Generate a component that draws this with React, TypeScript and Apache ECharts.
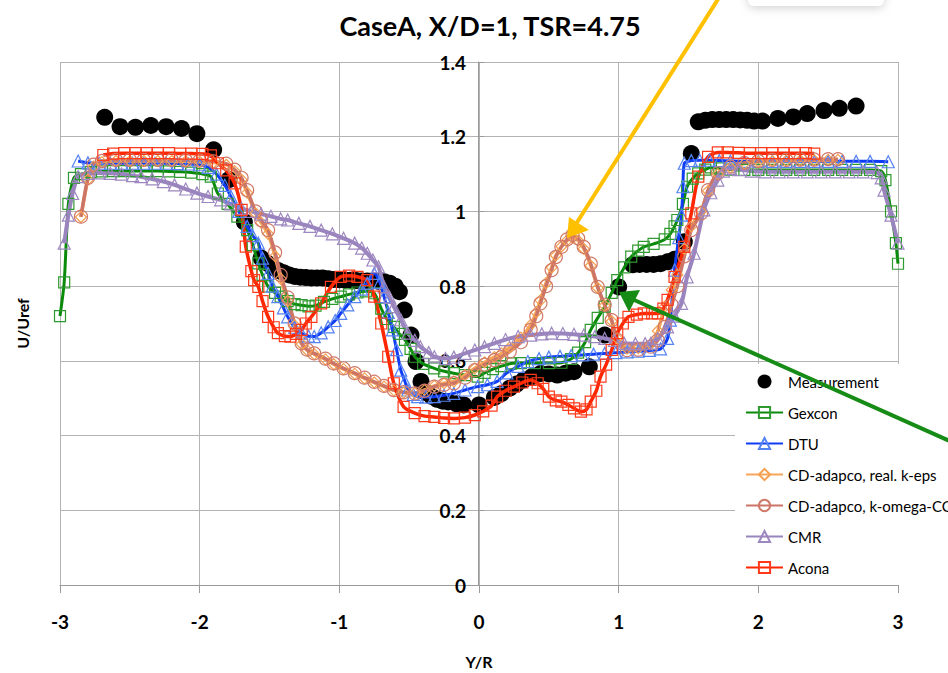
import React, { useEffect, useRef } from "react";
import * as echarts from "echarts";

const FONT = "Lato, 'Open Sans', sans-serif";

const TITLE = "CaseA, X/D=1, TSR=4.75";
const X_NAME = "Y/R";
const Y_NAME = "U/Uref";

const measurement: [number, number][] = [
  [-2.68, 1.252], [-2.57, 1.227], [-2.46, 1.225], [-2.35, 1.23], [-2.24, 1.227], [-2.13, 1.222],
  [-2.02, 1.208], [-1.9, 1.165], [-1.79, 1.085], [-1.68, 0.972], [-1.56, 0.875], [-1.52, 0.862],
  [-1.48, 0.85], [-1.44, 0.842], [-1.4, 0.836], [-1.36, 0.83], [-1.32, 0.826], [-1.28, 0.824],
  [-1.24, 0.823], [-1.2, 0.822], [-1.16, 0.822], [-1.12, 0.822], [-1.08, 0.82], [-1.04, 0.818],
  [-1.0, 0.817], [-0.96, 0.816], [-0.92, 0.816], [-0.88, 0.815], [-0.84, 0.814], [-0.8, 0.814],
  [-0.76, 0.814], [-0.72, 0.813], [-0.68, 0.812], [-0.64, 0.808], [-0.6, 0.8], [-0.57, 0.785],
  [-0.535, 0.736], [-0.487, 0.669], [-0.451, 0.598], [-0.415, 0.545], [-0.38, 0.515], [-0.34, 0.505],
  [-0.3, 0.497], [-0.26, 0.492], [-0.22, 0.49], [-0.16, 0.485], [-0.11, 0.482], [0.0, 0.482],
  [0.11, 0.502], [0.16, 0.512], [0.22, 0.527], [0.27, 0.538], [0.32, 0.549], [0.38, 0.558],
  [0.44, 0.566], [0.5, 0.565], [0.56, 0.562], [0.62, 0.567], [0.68, 0.571], [0.79, 0.584],
  [0.9, 0.669], [1.0, 0.798], [1.1, 0.857], [1.15, 0.858], [1.2, 0.858], [1.25, 0.858],
  [1.3, 0.86], [1.35, 0.865], [1.4, 0.872], [1.47, 0.919], [1.52, 1.155], [1.57, 1.24],
  [1.62, 1.244], [1.67, 1.246], [1.72, 1.246], [1.77, 1.246], [1.82, 1.246], [1.87, 1.245],
  [1.92, 1.244], [1.97, 1.242], [2.03, 1.242], [2.14, 1.249], [2.25, 1.253], [2.35, 1.262],
  [2.47, 1.27], [2.58, 1.276], [2.7, 1.282],
];

const gexcon: [number, number][] = [
  [-3.0, 0.72], [-2.97, 0.81], [-2.94, 1.02], [-2.9, 1.09], [-2.85, 1.1], [-2.78, 1.105],
  [-2.7, 1.107], [-2.62, 1.108], [-2.54, 1.108], [-2.46, 1.108], [-2.38, 1.108], [-2.3, 1.108],
  [-2.22, 1.107], [-2.14, 1.106], [-2.06, 1.104], [-1.98, 1.1], [-1.92, 1.093], [-1.87, 1.048],
  [-1.8, 1.02], [-1.73, 0.986], [-1.66, 0.95], [-1.62, 0.91], [-1.58, 0.861], [-1.55, 0.83],
  [-1.51, 0.799], [-1.46, 0.782], [-1.42, 0.772], [-1.37, 0.76], [-1.32, 0.752], [-1.27, 0.749],
  [-1.22, 0.746], [-1.17, 0.748], [-1.11, 0.758], [-1.05, 0.766], [-0.99, 0.772], [-0.93, 0.778],
  [-0.87, 0.783], [-0.81, 0.786], [-0.75, 0.781], [-0.7, 0.74], [-0.66, 0.712], [-0.61, 0.691],
  [-0.57, 0.672], [-0.53, 0.656], [-0.49, 0.632], [-0.46, 0.611], [-0.4, 0.592], [-0.32, 0.58],
  [-0.25, 0.572], [-0.18, 0.567], [-0.1, 0.562], [-0.01, 0.558], [0.04, 0.568], [0.1, 0.578],
  [0.16, 0.586], [0.23, 0.593], [0.3, 0.594], [0.4, 0.594], [0.5, 0.594], [0.59, 0.595],
  [0.66, 0.605], [0.71, 0.622], [0.76, 0.65], [0.8, 0.683], [0.85, 0.715], [0.9, 0.745],
  [0.95, 0.782], [0.99, 0.816], [1.04, 0.85], [1.09, 0.879], [1.14, 0.895], [1.18, 0.905],
  [1.25, 0.913], [1.33, 0.925], [1.37, 0.94], [1.4, 0.96], [1.42, 0.977], [1.46, 1.02],
  [1.49, 1.066], [1.53, 1.088], [1.57, 1.102], [1.62, 1.112], [1.66, 1.118], [1.72, 1.115],
  [1.8, 1.112], [1.9, 1.111], [2.0, 1.111], [2.1, 1.111], [2.2, 1.111], [2.3, 1.111],
  [2.4, 1.111], [2.5, 1.111], [2.6, 1.111], [2.7, 1.111], [2.8, 1.111], [2.88, 1.108],
  [2.91, 1.084], [2.95, 1.0], [2.985, 0.915], [3.0, 0.86],
];

const dtu: [number, number][] = [
  [-2.87, 1.135], [-2.8, 1.13], [-2.72, 1.129], [-2.64, 1.129], [-2.56, 1.129], [-2.48, 1.129],
  [-2.4, 1.129], [-2.32, 1.129], [-2.24, 1.129], [-2.16, 1.128], [-2.08, 1.127], [-2.0, 1.125],
  [-1.94, 1.118], [-1.88, 1.1], [-1.82, 1.07], [-1.775, 1.039], [-1.72, 1.0], [-1.66, 0.96],
  [-1.62, 0.935], [-1.58, 0.915], [-1.55, 0.875], [-1.51, 0.834], [-1.48, 0.8], [-1.44, 0.772],
  [-1.4, 0.742], [-1.37, 0.718], [-1.32, 0.69], [-1.27, 0.674], [-1.22, 0.666], [-1.18, 0.665],
  [-1.13, 0.675], [-1.08, 0.691], [-1.03, 0.708], [-0.99, 0.727], [-0.94, 0.75], [-0.89, 0.772],
  [-0.84, 0.792], [-0.8, 0.808], [-0.75, 0.834], [-0.71, 0.81], [-0.68, 0.772], [-0.65, 0.73],
  [-0.62, 0.683], [-0.59, 0.63], [-0.56, 0.575], [-0.53, 0.545], [-0.51, 0.522], [-0.47, 0.51],
  [-0.44, 0.504], [-0.38, 0.503], [-0.32, 0.504], [-0.25, 0.508], [-0.18, 0.513], [-0.1, 0.522],
  [-0.01, 0.531], [0.06, 0.536], [0.13, 0.545], [0.2, 0.568], [0.28, 0.585], [0.35, 0.598],
  [0.43, 0.606], [0.5, 0.61], [0.58, 0.612], [0.66, 0.614], [0.74, 0.616], [0.82, 0.618],
  [0.9, 0.62], [0.98, 0.622], [1.06, 0.624], [1.14, 0.626], [1.22, 0.628], [1.3, 0.632],
  [1.35, 0.66], [1.37, 0.709], [1.4, 0.843], [1.43, 0.93], [1.45, 0.99], [1.46, 1.066],
  [1.47, 1.129], [1.52, 1.136], [1.58, 1.137], [1.65, 1.137], [1.72, 1.136], [1.8, 1.135],
  [1.9, 1.134], [2.0, 1.134], [2.1, 1.134], [2.2, 1.134], [2.3, 1.134], [2.4, 1.134],
  [2.5, 1.134], [2.6, 1.134], [2.7, 1.134], [2.8, 1.134], [2.93, 1.133],
];

const cdKeps: [number, number][] = [
  [-2.85, 0.985], [-2.8, 1.085], [-2.76, 1.12], [-2.7, 1.132], [-2.6, 1.135], [-2.5, 1.135],
  [-2.4, 1.135], [-2.3, 1.135], [-2.2, 1.135], [-2.1, 1.134], [-2.0, 1.133], [-1.9, 1.131],
  [-1.81, 1.125], [-1.75, 1.108], [-1.7, 1.085], [-1.66, 1.05], [-1.6, 0.995], [-1.56, 0.97],
  [-1.51, 0.94], [-1.46, 0.88], [-1.42, 0.82], [-1.37, 0.76], [-1.32, 0.695], [-1.27, 0.645],
  [-1.23, 0.628], [-1.18, 0.618], [-1.1, 0.604], [-1.04, 0.591], [-0.97, 0.578], [-0.89, 0.565],
  [-0.82, 0.553], [-0.75, 0.542], [-0.68, 0.531], [-0.61, 0.521], [-0.54, 0.515], [-0.46, 0.514],
  [-0.39, 0.522], [-0.32, 0.533], [-0.25, 0.54], [-0.18, 0.545], [-0.1, 0.562], [-0.03, 0.58],
  [0.04, 0.596], [0.11, 0.61], [0.16, 0.62], [0.22, 0.636], [0.3, 0.662], [0.37, 0.696],
  [0.41, 0.73], [0.44, 0.762], [0.48, 0.808], [0.52, 0.85], [0.55, 0.882], [0.59, 0.906],
  [0.63, 0.922], [0.67, 0.93], [0.71, 0.922], [0.75, 0.9], [0.8, 0.855], [0.85, 0.795],
  [0.9, 0.748], [0.95, 0.706], [0.99, 0.66], [1.06, 0.633], [1.14, 0.634], [1.23, 0.645],
  [1.28, 0.68], [1.33, 0.745], [1.38, 0.79], [1.42, 0.83], [1.47, 0.9], [1.52, 0.96],
  [1.59, 1.0], [1.64, 1.055], [1.71, 1.1], [1.8, 1.118], [1.9, 1.128], [2.0, 1.133],
  [2.1, 1.135], [2.2, 1.136], [2.3, 1.137], [2.4, 1.137], [2.5, 1.138], [2.57, 1.138],
];

const cdKomega: [number, number][] = [
  [-2.85, 0.986], [-2.8, 1.09], [-2.76, 1.125], [-2.7, 1.135], [-2.6, 1.138], [-2.5, 1.138],
  [-2.4, 1.138], [-2.3, 1.138], [-2.2, 1.138], [-2.1, 1.137], [-2.0, 1.136], [-1.9, 1.134],
  [-1.81, 1.128], [-1.75, 1.112], [-1.7, 1.09], [-1.66, 1.057], [-1.6, 1.0], [-1.56, 0.977],
  [-1.51, 0.95], [-1.46, 0.89], [-1.42, 0.83], [-1.37, 0.77], [-1.32, 0.7], [-1.27, 0.647],
  [-1.23, 0.63], [-1.18, 0.62], [-1.1, 0.606], [-1.04, 0.593], [-0.97, 0.58], [-0.89, 0.567],
  [-0.82, 0.555], [-0.75, 0.544], [-0.68, 0.533], [-0.61, 0.522], [-0.54, 0.516], [-0.46, 0.513],
  [-0.39, 0.52], [-0.32, 0.531], [-0.25, 0.536], [-0.18, 0.54], [-0.1, 0.555], [-0.03, 0.575],
  [0.04, 0.59], [0.11, 0.602], [0.16, 0.61], [0.22, 0.625], [0.3, 0.65], [0.37, 0.683],
  [0.41, 0.72], [0.44, 0.754], [0.48, 0.8], [0.52, 0.843], [0.55, 0.878], [0.59, 0.905],
  [0.63, 0.925], [0.67, 0.937], [0.71, 0.928], [0.75, 0.905], [0.8, 0.86], [0.85, 0.798],
  [0.9, 0.75], [0.95, 0.709], [0.99, 0.656], [1.06, 0.629], [1.14, 0.63], [1.23, 0.638],
  [1.28, 0.655], [1.33, 0.691], [1.38, 0.75], [1.42, 0.8], [1.47, 0.88], [1.52, 0.95],
  [1.59, 0.995], [1.64, 1.057], [1.71, 1.102], [1.8, 1.12], [1.9, 1.13], [2.0, 1.135],
  [2.1, 1.138], [2.2, 1.138], [2.3, 1.139], [2.4, 1.139], [2.5, 1.14], [2.57, 1.14],
];

const cmr: [number, number][] = [
  [-2.97, 0.915], [-2.94, 0.99], [-2.91, 1.048], [-2.87, 1.093], [-2.8, 1.102], [-2.72, 1.103],
  [-2.64, 1.102], [-2.56, 1.1], [-2.48, 1.096], [-2.42, 1.093], [-2.34, 1.087], [-2.26, 1.08],
  [-2.18, 1.071], [-2.1, 1.06], [-2.02, 1.049], [-1.94, 1.04], [-1.85, 1.031], [-1.78, 1.02],
  [-1.7, 1.008], [-1.63, 1.0], [-1.56, 0.993], [-1.49, 0.987], [-1.42, 0.98], [-1.37, 0.977],
  [-1.29, 0.968], [-1.21, 0.96], [-1.13, 0.95], [-1.05, 0.94], [-0.97, 0.928], [-0.89, 0.915],
  [-0.84, 0.902], [-0.8, 0.888], [-0.76, 0.87], [-0.72, 0.852], [-0.68, 0.798], [-0.64, 0.77],
  [-0.61, 0.745], [-0.56, 0.71], [-0.51, 0.674], [-0.46, 0.655], [-0.42, 0.638], [-0.36, 0.622],
  [-0.32, 0.611], [-0.24, 0.606], [-0.18, 0.61], [-0.1, 0.62], [-0.03, 0.629], [0.04, 0.638],
  [0.11, 0.647], [0.19, 0.657], [0.28, 0.665], [0.37, 0.669], [0.45, 0.672], [0.52, 0.674],
  [0.6, 0.673], [0.68, 0.671], [0.75, 0.669], [0.83, 0.665], [0.9, 0.66], [0.97, 0.655],
  [1.04, 0.647], [1.12, 0.646], [1.19, 0.646], [1.23, 0.647], [1.28, 0.66], [1.35, 0.691],
  [1.4, 0.72], [1.45, 0.754], [1.49, 0.825], [1.54, 0.888], [1.61, 1.004], [1.66, 1.05],
  [1.71, 1.084], [1.75, 1.108], [1.8, 1.115], [1.86, 1.112], [1.95, 1.108], [2.05, 1.106],
  [2.15, 1.106], [2.25, 1.106], [2.35, 1.106], [2.45, 1.106], [2.55, 1.106], [2.65, 1.106],
  [2.75, 1.106], [2.85, 1.104], [2.88, 1.09], [2.9, 1.057], [2.95, 0.99], [3.0, 0.915],
];

const acona: [number, number][] = [
  [-2.69, 1.151], [-2.62, 1.155], [-2.54, 1.156], [-2.46, 1.156], [-2.38, 1.156], [-2.3, 1.156],
  [-2.22, 1.156], [-2.14, 1.155], [-2.06, 1.155], [-1.98, 1.154], [-1.92, 1.15], [-1.87, 1.129],
  [-1.81, 1.11], [-1.75, 1.075], [-1.7, 1.004], [-1.67, 0.906], [-1.63, 0.84], [-1.61, 0.816],
  [-1.58, 0.798], [-1.55, 0.76], [-1.51, 0.718], [-1.47, 0.69], [-1.44, 0.674], [-1.39, 0.666],
  [-1.35, 0.665], [-1.31, 0.672], [-1.27, 0.683], [-1.24, 0.7], [-1.2, 0.718], [-1.13, 0.754],
  [-1.06, 0.798], [-0.99, 0.825], [-0.93, 0.828], [-0.87, 0.825], [-0.8, 0.816], [-0.75, 0.772],
  [-0.7, 0.7], [-0.65, 0.611], [-0.61, 0.54], [-0.54, 0.477], [-0.46, 0.46], [-0.39, 0.452],
  [-0.32, 0.45], [-0.25, 0.447], [-0.18, 0.446], [-0.1, 0.448], [-0.03, 0.455], [0.03, 0.465],
  [0.09, 0.48], [0.13, 0.504], [0.19, 0.52], [0.25, 0.531], [0.31, 0.542], [0.37, 0.549],
  [0.42, 0.54], [0.46, 0.525], [0.5, 0.504], [0.55, 0.494], [0.59, 0.491], [0.64, 0.482],
  [0.68, 0.473], [0.73, 0.464], [0.77, 0.47], [0.8, 0.491], [0.84, 0.52], [0.87, 0.558],
  [0.91, 0.59], [0.95, 0.629], [0.99, 0.674], [1.03, 0.7], [1.07, 0.718], [1.13, 0.724],
  [1.18, 0.727], [1.24, 0.727], [1.28, 0.727], [1.32, 0.74], [1.35, 0.763], [1.4, 0.825],
  [1.47, 0.905], [1.52, 0.995], [1.57, 1.093], [1.64, 1.146], [1.71, 1.158], [1.78, 1.158],
  [1.86, 1.157], [1.94, 1.156], [2.02, 1.156], [2.1, 1.156], [2.18, 1.156], [2.26, 1.156],
  [2.34, 1.156], [2.4, 1.155],
];

const LEGEND_NAMES = [
  "Measurement",
  "Gexcon",
  "DTU",
  "CD-adapco, real. k-eps",
  "CD-adapco, k-omega-CC",
  "CMR",
  "Acona",
];

function lineSeries(
  name: string,
  data: [number, number][],
  lineColor: string,
  markColor: string,
  symbol: string,
  symbolSize: number,
  width: number
) {
  return {
    name,
    type: "line",
    data,
    smooth: 0.25,
    symbol,
    symbolSize,
    showAllSymbol: true,
    lineStyle: { color: lineColor, width },
    itemStyle: { color: "transparent", borderColor: markColor, borderWidth: 1.2 },
    emphasis: { disabled: true },
  };
}

export default function App() {
  const ref = useRef<HTMLDivElement>(null);

  useEffect(() => {
    if (!ref.current) return;
    const chart = echarts.init(ref.current, undefined, { renderer: "svg" });
    const gridColor = "#b3b3b3";
    const axisColor = "#9a9a9a";
    const option: any = {
      animation: false,
      backgroundColor: "#ffffff",
      title: {
        text: TITLE,
        left: 485,
        top: 7,
        textAlign: "center",
        textStyle: { fontFamily: FONT, fontWeight: "bold", fontSize: 27, color: "#000" },
      },
      grid: { left: 60, right: 50, top: 62, bottom: 88, containLabel: false, outerBoundsMode: "none" },
      xAxis: {
        type: "value",
        min: -3,
        max: 3,
        interval: 1,
        name: X_NAME,
        nameLocation: "middle",
        nameGap: 68,
        nameTextStyle: { fontFamily: FONT, fontWeight: "bold", fontSize: 16, color: "#000" },
        axisLine: { show: true, onZero: false, lineStyle: { color: axisColor, width: 1 } },
        axisTick: { show: true, length: 8, lineStyle: { color: axisColor } },
        axisLabel: { margin: 27, fontFamily: FONT, fontWeight: "bold", fontSize: 19, color: "#000" },
        splitLine: { show: true, lineStyle: { color: gridColor, width: 1 } },
      },
      yAxis: {
        type: "value",
        min: 0,
        max: 1.4,
        interval: 0.2,
        position: "left",
        offset: -418,
        name: Y_NAME,
        nameLocation: "middle",
        nameGap: 448,
        nameRotate: 90,
        nameTextStyle: { fontFamily: FONT, fontWeight: "bold", fontSize: 16, color: "#000" },
        axisLine: { show: true, onZero: false, lineStyle: { color: axisColor, width: 1 } },
        axisTick: { show: true, inside: true, length: 6, lineStyle: { color: axisColor } },
        axisLabel: { margin: 12, fontFamily: FONT, fontWeight: "bold", fontSize: 19, color: "#000" },
        splitLine: { show: true, lineStyle: { color: gridColor, width: 1 } },
      },
      legend: {
        orient: "vertical",
        left: 735,
        top: 364,
        backgroundColor: "#ffffff",
        padding: [10, 30, 10, 10],
        itemWidth: 37,
        itemHeight: 14,
        itemGap: 16,
        data: LEGEND_NAMES,
        textStyle: { fontFamily: FONT, fontSize: 15, color: "#000" },
        selectedMode: false,
      },
      series: [
        {
          name: "Measurement",
          type: "scatter",
          data: measurement,
          symbol: "circle",
          symbolSize: 17,
          itemStyle: { color: "#000", opacity: 1 },
          emphasis: { disabled: true },
        },
        lineSeries("Gexcon", gexcon, "#0a8a0a", "#2f9a2f", "rect", 11, 3),
        lineSeries("DTU", dtu, "#0f3cf5", "#5582f2", "triangle", 12, 3),
        lineSeries("CD-adapco, real. k-eps", cdKeps, "#f7a55a", "#f5a050", "diamond", 11, 3.5),
        lineSeries("CD-adapco, k-omega-CC", cdKomega, "#cc7566", "#d07868", "circle", 13, 3.5),
        lineSeries("CMR", cmr, "#9a84be", "#9d87c0", "triangle", 12, 4),
        lineSeries("Acona", acona, "#ff2600", "#ff3a1a", "rect", 11, 3.5),
      ],
      graphic: [
        {
          type: "rect",
          z: 100,
          shape: { x: 748, y: -30, width: 136, height: 36, r: 6 },
          style: { fill: "#ffffff", shadowBlur: 10, shadowColor: "rgba(0,0,0,0.18)", shadowOffsetY: 2 },
        },
        {
          type: "line",
          z: 100,
          shape: { x1: 720, y1: -4, x2: 576, y2: 224 },
          style: { stroke: "#ffc000", lineWidth: 4 },
        },
        {
          type: "polygon",
          z: 100,
          shape: { points: [[567, 238], [569, 217], [589, 230]] },
          style: { fill: "#ffc000" },
        },
        {
          type: "line",
          z: 100,
          shape: { x1: 952, y1: 442, x2: 632, y2: 299 },
          style: { stroke: "#168c16", lineWidth: 4 },
        },
        {
          type: "polygon",
          z: 100,
          shape: { points: [[619, 292], [640, 290], [629, 312]] },
          style: { fill: "#168c16" },
        },
      ],
    };
    chart.setOption(option);
    return () => chart.dispose();
  }, []);

  return (
    <div
      ref={ref}
      style={{ position: "fixed", left: 0, top: 0, width: 948, height: 673, background: "#fff" }}
    />
  );
}
